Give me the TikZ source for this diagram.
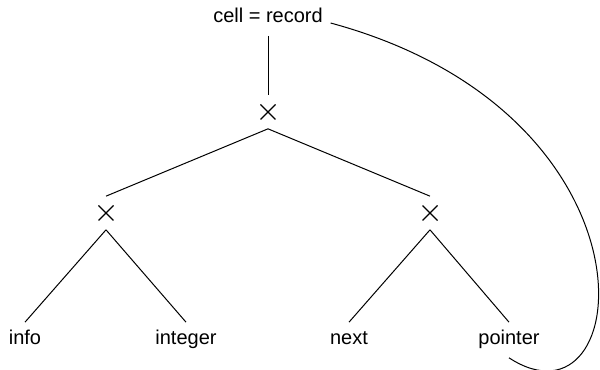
\documentclass[tikz,border=0pt]{standalone}
\usepackage{fontspec}
\setmainfont{Liberation Sans}

\begin{document}
\begin{tikzpicture}[x=0.6pt, y=-0.6pt, font=\fontsize{12}{14}\selectfont,
            word/.style={inner sep=4.5pt, text height=9pt, text depth=3pt, anchor=base},
            prod/.style={minimum size=19.8pt, inner sep=0pt,
                path picture={\draw[line width=0.7pt] (path picture bounding box.center) +(-4.5pt,-4.5pt) -- +(4.5pt,4.5pt)
                    (path picture bounding box.center) +(-4.5pt,4.5pt) -- +(4.5pt,-4.5pt);}},
            branch/.style={line width=0.6pt}]

        \useasboundingbox (0,0) rectangle (600,370);

        % type name and the products below it
        \node[word] (cell) at (268,23) {cell = record};
        \node[prod] (top) at (268,112) {};
        \node[prod] (left) at (106,213) {};
        \node[prod] (right) at (430,213) {};

        % field names
        \node[word] (info) at (25,345) {info};
        \node[word] (integer) at (186,345) {integer};
        \node[word] (next) at (349,345) {next};
        \node[word] (pointer) at (509,345) {pointer};

        \draw[branch] (cell) -- (top);
        \draw[branch] (top.south) -- (left.north);
        \draw[branch] (top.south) -- (right.north);
        \draw[branch] (left.south) -- (info.north);
        \draw[branch] (left.south) -- (integer.north);
        \draw[branch] (right.south) -- (next.north);
        \draw[branch] (right.south) -- (pointer.north);

        % pointer refers back to cell
        \draw[branch] (cell.base east) .. controls (670,115) and (635,440) .. (pointer.south);
    \end{tikzpicture}
\end{document}
